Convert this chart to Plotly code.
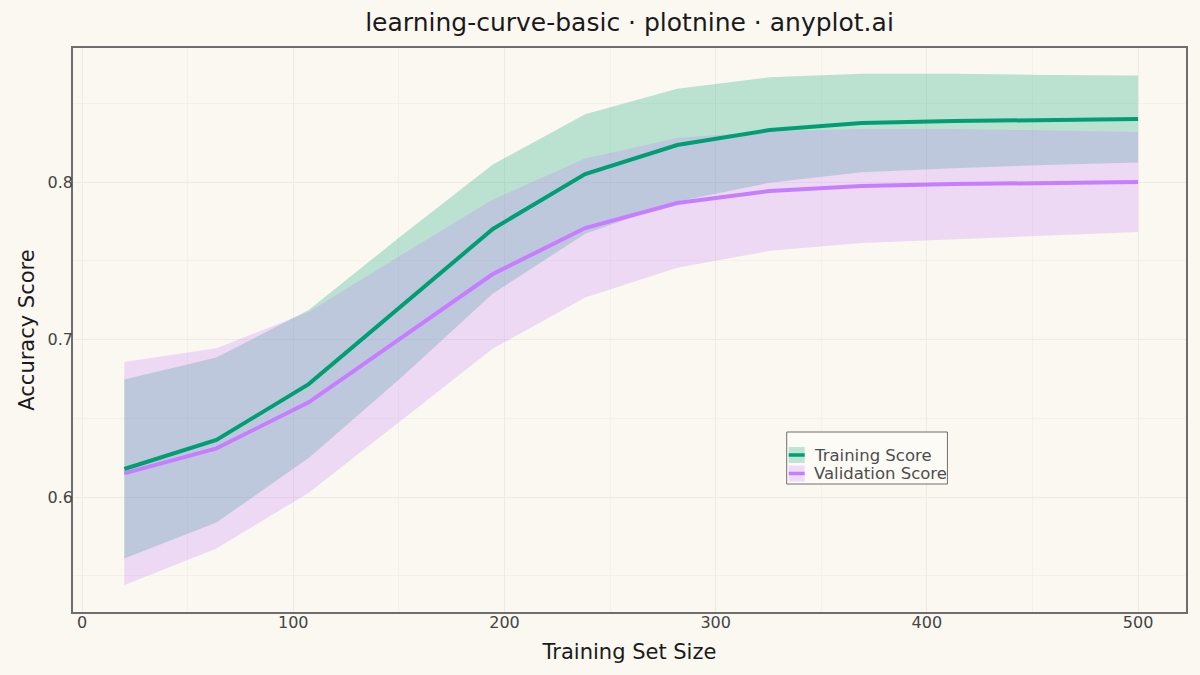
import plotly.graph_objects as go

# training set sizes (12 steps from 20 to 500)
train_sizes = [20, 63.6, 107.3, 150.9, 194.5, 238.2, 281.8, 325.5, 369.1, 412.7, 456.4, 500]

# mean and std of the cross-validated scores
train_mean = [0.6178, 0.6362, 0.6717, 0.7206, 0.7702, 0.8051, 0.8235, 0.8330, 0.8375, 0.8387, 0.8394, 0.8400]
train_std = [0.0569, 0.0524, 0.0470, 0.0450, 0.0410, 0.0380, 0.0358, 0.0335, 0.0313, 0.0300, 0.0286, 0.0276]
val_mean = [0.6150, 0.6309, 0.6601, 0.7010, 0.7416, 0.7708, 0.7867, 0.7943, 0.7975, 0.7987, 0.7994, 0.8000]
val_std = [0.0708, 0.0636, 0.0574, 0.0525, 0.0473, 0.0441, 0.0412, 0.0380, 0.0362, 0.0350, 0.0334, 0.0317]

series_names = ['Training Score', 'Validation Score']

bg = '#FAF8F1'
green = '#009E73'
purple = '#C77DFF'
green_fill = 'rgba(0,158,115,0.25)'
purple_fill = 'rgba(199,125,255,0.25)'
font_family = 'DejaVu Sans'

fig = go.Figure()

# shaded bands (mean +/- std), training first so validation sits on top
for mean, std, color in [(train_mean, train_std, green_fill),
                         (val_mean, val_std, purple_fill)]:
    upper = [m + s for m, s in zip(mean, std)]
    lower = [m - s for m, s in zip(mean, std)]
    fig.add_trace(go.Scatter(
        x=train_sizes + train_sizes[::-1],
        y=upper + lower[::-1],
        fill='toself',
        fillcolor=color,
        line=dict(width=0),
        mode='lines',
        hoverinfo='skip',
        showlegend=False))

# mean lines
fig.add_trace(go.Scatter(x=train_sizes, y=train_mean, mode='lines', showlegend=False,
                         name=series_names[0], line=dict(color=green, width=4)))
fig.add_trace(go.Scatter(x=train_sizes, y=val_mean, mode='lines', showlegend=False,
                         name=series_names[1], line=dict(color=purple, width=4)))

# hand-built legend box (ggplot style: band swatch with line through it)
def px_x(p):
    return (p - 73) / 1115


def px_y(p):
    return (612 - p) / 564


fig.add_shape(type='rect', xref='paper', yref='paper',
              x0=px_x(788), x1=px_x(949), y0=px_y(484), y1=px_y(432),
              fillcolor='#FDFBF6', line=dict(color='#6E6E6E', width=1))
for i, (name, col, fillc) in enumerate(zip(series_names, [green, purple], [green_fill, purple_fill])):
    cy = 455 + i * 18.5
    fig.add_shape(type='rect', xref='paper', yref='paper',
                  x0=px_x(790), x1=px_x(806), y0=px_y(cy + 8), y1=px_y(cy - 8),
                  fillcolor=fillc, line=dict(width=0))
    fig.add_shape(type='line', xref='paper', yref='paper',
                  x0=px_x(790), x1=px_x(806), y0=px_y(cy), y1=px_y(cy),
                  line=dict(color=col, width=3.5))
    fig.add_annotation(xref='paper', yref='paper', x=px_x(813), y=px_y(cy),
                       xanchor='left', yanchor='middle', text=name, showarrow=False,
                       font=dict(size=16.5, color='#4D4D4D', family=font_family))

axis_common = dict(
    showgrid=True,
    gridcolor='#EEEBE3',
    gridwidth=1,
    zeroline=False,
    showline=True,
    linecolor='#6E6E6E',
    linewidth=1.5,
    mirror=True,
    ticks='',
    tickfont=dict(size=16, color='#444444', family=font_family),
    minor=dict(showgrid=True, gridcolor='#F3F1EA', gridwidth=1),
)

fig.update_layout(
    width=1200,
    height=675,
    paper_bgcolor=bg,
    plot_bgcolor=bg,
    font=dict(family=font_family, color='#222222'),
    title=dict(text='learning-curve-basic · plotnine · anyplot.ai',
               xref='paper', x=0.5, xanchor='center', y=0.967, yanchor='middle',
               font=dict(size=25, color='#1A1A1A', family=font_family)),
    margin=dict(l=73, r=12, t=48, b=63),
    showlegend=False,
    xaxis=dict(axis_common, range=[-4.3, 522.7], tickvals=[0, 100, 200, 300, 400, 500],
               dtick=100, minor_dtick=50, ticklabelstandoff=-5,
               title=dict(text='Training Set Size', font=dict(size=21, color='#1A1A1A'), standoff=13)),
    yaxis=dict(axis_common, range=[0.527, 0.8851], tickvals=[0.6, 0.7, 0.8],
               dtick=0.1, minor_dtick=0.05, ticklabelstandoff=-5,
               title=dict(text='Accuracy Score', font=dict(size=21, color='#1A1A1A'), standoff=7)),
)

fig.write_html('out.html', config={'displayModeBar': False},
               post_script="document.body.style.margin='0';")
